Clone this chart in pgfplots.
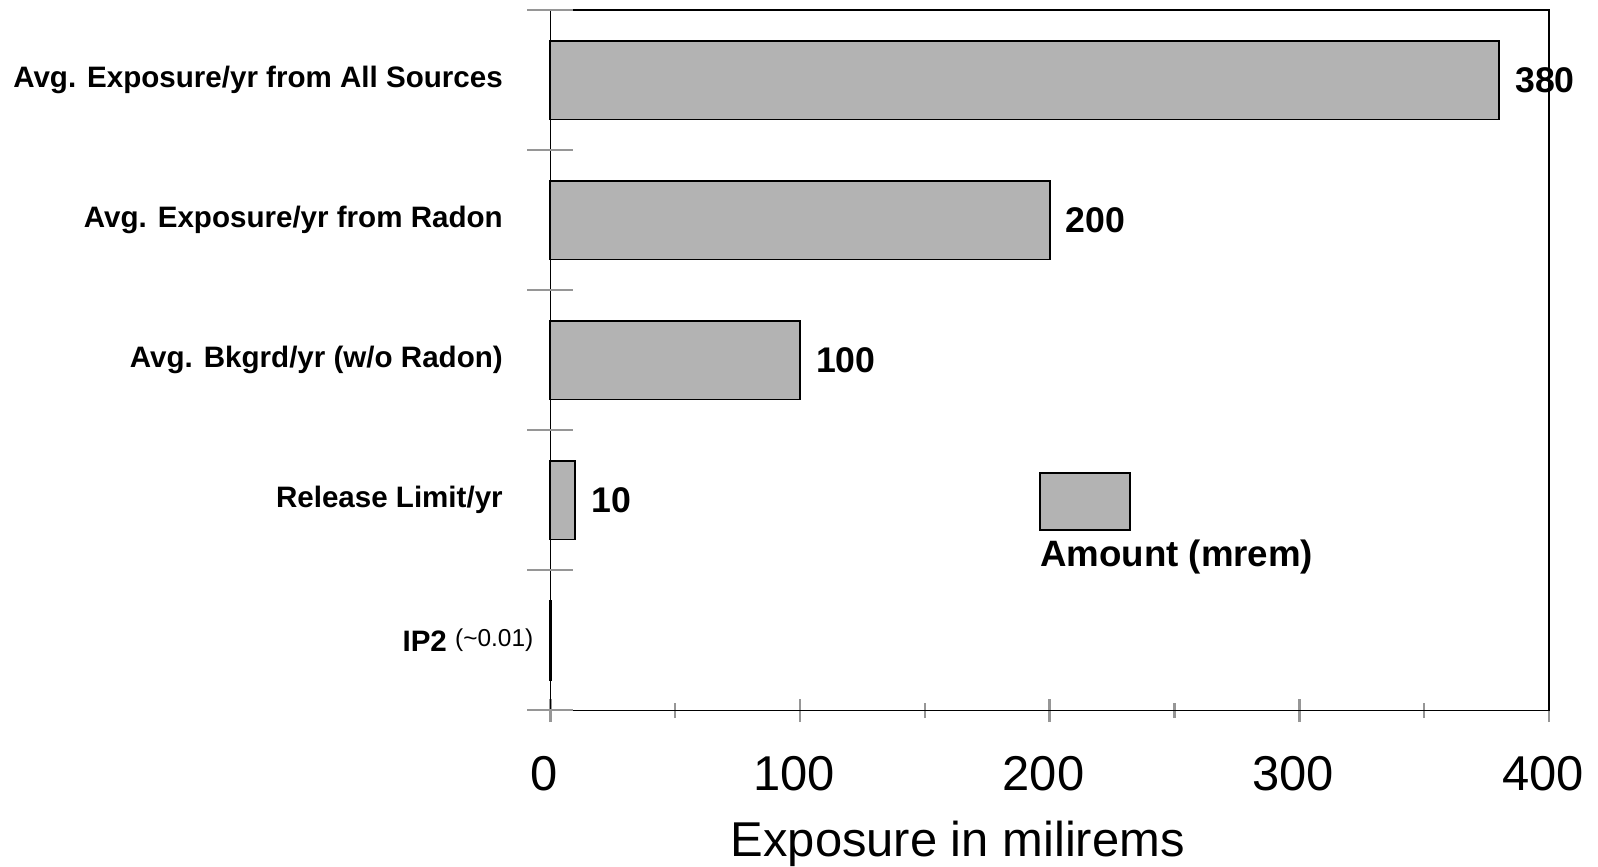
\documentclass[border=0pt]{standalone}
\usepackage{fontspec}
\setmainfont{Liberation Sans}
\usepackage{pgfplots}
\pgfplotsset{compat=1.18}
\definecolor{barfill}{RGB}{179,179,179}
\definecolor{tickgray}{RGB}{150,150,150}
\begin{document}
\begin{tikzpicture}
\begin{axis}[
    scale only axis,
    width=490pt, height=343.5pt,
    xbar, bar width=38.5pt, bar shift=0pt,
    xmin=0, xmax=400, ymin=0.5, ymax=5.5,
    clip=false,
    axis line style={black, line width=0.75pt},
    xtick pos=bottom, ytick pos=left,
    xtick={0,100,...,400},
    minor xtick={50,150,...,350},
    tick align=center,
    xtick style={draw=tickgray, line width=1.2pt,
        /pgfplots/major tick length=11.5pt, /pgfplots/minor tick length=7.7pt},
    xticklabel style={font=\fontsize{24}{28}\selectfont, inner sep=0pt, yshift=-20pt, xshift=-3pt},
    /pgf/number format/assume math mode=true,
    xlabel={Exposure in milirems},
    xlabel style={font=\fontsize{24}{28}\selectfont,
        at={(axis description cs:0.408,-0.157)}, anchor=north, inner sep=0pt},
    ytick={1,2,3,4,5},
    yticklabels={
        IP2 \raisebox{2.5pt}{\mdseries\fontsize{12}{14}\selectfont(\textasciitilde0.01)}\hspace*{-15pt},
        Release Limit/yr,
        Avg. Bkgrd/yr (w/o Radon),
        Avg. Exposure/yr from Radon,
        Avg. Exposure/yr from All Sources},
    ytick style={draw=none},
    yticklabel style={font=\bfseries\fontsize{14.5}{17}\selectfont,
        anchor=east, inner sep=0pt, xshift=-21pt},
    extra y ticks={0.5,1.5,2.5,3.5,4.5,5.5},
    extra y tick labels={,,,,,},
    extra y tick style={ytick style={draw=tickgray, line width=1pt,
        /pgfplots/major tick length=22.5pt}},
    legend style={draw=none, fill=none,
        at={(axis description cs:0.49,0.2445)}, anchor=north west,
        inner sep=0pt, font=\bfseries\fontsize{18}{21}\selectfont,
        nodes={inner sep=0pt},
        /tikz/every even column/.append style={column sep=0pt}},
]
% exposure amounts in mrem
\addplot[fill=barfill, draw=black, line width=0.8pt,
    nodes near coords, point meta=x,
    nodes near coords style={anchor=west, inner sep=0pt, xshift=7.5pt,
        font=\bfseries\fontsize{17.5}{20}\selectfont},
    legend image code/.code={\draw[fill=barfill, draw=black, line width=0.8pt, overlay]
        (0pt,12pt) rectangle (44pt,40pt);}]
    coordinates {(10,2) (100,3) (200,4) (380,5)};
\addlegendentry{Amount (mrem)}
% IP2, about 0.01 mrem
\addplot[fill=barfill, draw=black, line width=1.4pt, forget plot]
    coordinates {(0.01,1)};
\path (rel axis cs:-0.551,-0.2227) rectangle (rel axis cs:1.049,1.0146);
\end{axis}
\end{tikzpicture}
\end{document}
